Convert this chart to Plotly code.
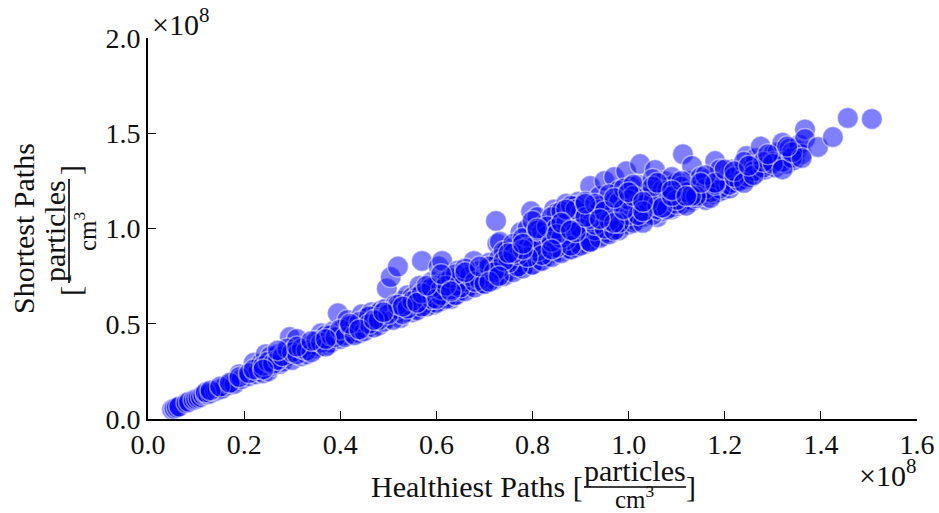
import plotly.graph_objects as go

# values in units of 1e8 particles/cm^3
x_a = [.05,.055,.06,.065,.08,.085,.095,.10,.105,.11,.115,.12,.125,.13,.14,.145,.15,.155,.16,.17,.175,.18,.19,.195]
y_a = [.05,.055,.06,.065,.085,.09,.10,.105,.11,.115,.125,.13,.13,.135,.145,.15,.155,.16,.17,.18,.19,.185,.235,.21]
x_b = [.21,.22,.225,.23,.235,.24,.245,.25,.255,.26,.27,.275,.28,.285,.29,.295,.30,.305,.31,.32,.33,.335,.34,.35,.355,.36,.37,.375,.38,.385,.39,.395]
y_b = [.225,.295,.235,.25,.29,.24,.34,.25,.33,.28,.34,.29,.30,.35,.33,.43,.31,.36,.42,.33,.34,.36,.39,.37,.38,.45,.44,.39,.40,.46,.42,.555]
x_c = [.40,.405,.41,.415,.42,.425,.43,.435,.44,.445,.45,.455,.46,.465,.47,.475,.48,.485,.49,.495,.497,.50,.505,.51,.515,.52,.525,.53,.535,.54,.545,.55,.555,.56,.565,.57,.575,.58,.585,.59,.595]
y_c = [.42,.47,.44,.52,.46,.45,.50,.47,.45,.55,.48,.53,.49,.56,.50,.55,.49,.57,.52,.58,.685,.53,.745,.57,.60,.80,.53,.62,.56,.65,.58,.64,.60,.58,.70,.83,.62,.68,.61,.72,.60]
x_d = [.60,.605,.61,.612,.615,.62,.625,.63,.635,.64,.645,.65,.655,.66,.665,.67,.678,.68,.685,.69,.695,.70,.705,.71,.715,.72,.724,.727,.732,.735,.74,.745,.75,.755,.76,.765,.77,.775,.78,.785,.79,.795]
y_d = [.66,.80,.62,.83,.72,.64,.68,.63,.72,.65,.78,.67,.70,.69,.74,.70,.83,.72,.75,.71,.74,.73,.76,.75,.80,.74,1.04,.92,.93,.78,.76,.88,.80,.78,.90,.82,.79,.98,.84,.81,1.00,.86]
x_e = [.797,.80,.805,.81,.815,.82,.825,.83,.835,.84,.845,.85,.855,.86,.865,.87,.875,.88,.885,.89,.895,.90,.905,.91,.915,.92,.925,.93,.935,.94,.945,.95,.955,.96,.965,.97,.975,.98,.985,.99,.995]
y_e = [1.09,.81,.95,1.06,.83,.90,1.02,.85,.97,.87,1.10,.92,1.04,.88,1.00,1.13,.89,1.07,.95,.90,1.14,.96,1.10,.92,1.04,1.223,.94,1.08,.98,1.17,.96,1.25,1.04,.98,1.12,1.27,1.00,1.20,1.08,1.03,1.30]
x_f = [1.00,1.005,1.01,1.015,1.02,1.024,1.03,1.035,1.04,1.045,1.05,1.055,1.06,1.065,1.07,1.075,1.08,1.085,1.09,1.095,1.10,1.105,1.11,1.113,1.12,1.125,1.13,1.132,1.14,1.145,1.15,1.155,1.16,1.165,1.17,1.175,1.18,1.185,1.19,1.195]
y_f = [1.02,1.22,1.10,1.04,1.23,1.338,1.06,1.16,1.08,1.20,1.10,1.307,1.06,1.18,1.09,1.25,1.12,1.22,1.10,1.14,1.24,1.12,1.18,1.39,1.15,1.25,1.14,1.328,1.20,1.16,1.23,1.17,1.15,1.26,1.21,1.18,1.354,1.19,1.24,1.20]
x_g = [1.20,1.205,1.21,1.215,1.22,1.225,1.23,1.235,1.24,1.245,1.25,1.255,1.26,1.265,1.27,1.275,1.28,1.285,1.29,1.295,1.30,1.305,1.31,1.315,1.32,1.325,1.33,1.335,1.34,1.345,1.35,1.355,1.36,1.367,1.367,1.394,1.425,1.456,1.506]
y_g = [1.22,1.26,1.21,1.31,1.24,1.28,1.25,1.30,1.26,1.38,1.29,1.27,1.33,1.37,1.30,1.43,1.34,1.31,1.36,1.33,1.39,1.32,1.40,1.35,1.45,1.37,1.34,1.42,1.38,1.36,1.41,1.44,1.39,1.52,1.47,1.428,1.48,1.58,1.575]
x_h = [.55,.56,.58,.60,.62,.64,.66,.68,.70,.72,.74,.76,.78,.80,.82,.84,.86,.88,.90,.92,.94,.96,.98,.83,.85,.87,.89,.91,.93,.95,.97,.99,1.01,1.03,1.05,1.07,1.09,1.11,1.13,1.15,1.17,1.19,1.21,1.23,1.25]
y_h = [.56,.57,.59,.61,.63,.65,.67,.69,.71,.73,.75,.77,.79,.81,.83,.85,.87,.89,.91,.93,.95,.97,.99,.92,1.08,.94,1.12,1.01,.99,1.06,1.14,1.17,1.03,1.12,1.07,1.15,1.11,1.13,1.15,1.17,1.19,1.21,1.23,1.25,1.27]
x_i = [.12,.13,.15,.17,.19,.21,.22,.24,.25,.26,.27,.28,.29,.30,.31,.32,.33,.34,.35,.36,.37,.38,.39,.40,.41,.42,.43,.44,.45,.46,.47,.48,.49,.50,.51,.52,.53]
y_i = [.14,.15,.17,.19,.22,.24,.26,.28,.30,.29,.31,.33,.37,.35,.34,.37,.36,.35,.41,.40,.38,.44,.43,.47,.43,.49,.44,.51,.46,.54,.48,.53,.51,.56,.52,.58,.55]
x_j = [.54,.56,.57,.58,.59,.60,.61,.62,.63,.64,.65,.66,.67,.68,.69,.70,.71,.72,.73,.74,.75,.76,.77,.78,.79,.80,.81,.82,.83,.84,.85,.86,.87,.88,.89,.90]
y_j = [.60,.64,.59,.66,.63,.70,.65,.72,.68,.70,.73,.72,.76,.74,.78,.76,.82,.78,.84,.88,.83,.92,.80,.95,.90,1.04,.88,.98,.96,1.06,.90,1.09,.97,1.12,1.01,1.08]
x_k = [.80,.81,.82,.83,.84,.85,.86,.87,.88,.89,.90,.91,.92,.93,.94,.95,.96,.97,.98,.99,1.00,1.01,1.02,1.03,1.04,1.05,1.06,1.07,1.08,1.09,1.10,1.11,1.12,1.13,1.14,1.15,1.16,1.17,1.18,1.19]
y_k = [.90,.99,.86,1.01,.93,1.00,.95,1.03,.91,1.10,1.00,1.14,.93,1.02,1.12,1.00,1.18,.99,1.14,1.21,1.07,1.23,1.12,1.03,1.17,1.26,1.10,1.20,1.10,1.27,1.13,1.22,1.12,1.20,1.16,1.27,1.21,1.16,1.23,1.31]
x_l = [.92,.94,.96,.98,1.00,1.02,1.04,1.06,1.08,1.10,1.12,1.14,1.16,1.18,1.20,1.22,1.24,1.26,1.28,1.30,1.32,1.34,.85,.87,.89,.91,.93,.95,.97,.99,1.01,1.03,1.05,1.07,1.09,1.11,1.13,1.15]
y_l = [1.05,1.10,1.04,1.03,1.15,1.07,1.14,1.12,1.20,1.15,1.19,1.17,1.28,1.24,1.31,1.27,1.35,1.30,1.32,1.35,1.35,1.37,.97,1.10,.98,1.06,1.13,1.09,1.03,1.10,1.17,1.09,1.22,1.11,1.17,1.25,1.17,1.24]
x_m = [.46,.48,.50,.52,.54,.55,.57,.59,.61,.63,.65,.67,.69,.71,.73,.75,.77,.79,.64,.66,.68,.70,.72,.74,.76,.78,.60,.62,1.22,1.24,1.26,1.28,1.30,1.32,1.34,1.36,1.25,1.29,1.33]
y_m = [.50,.52,.55,.60,.58,.62,.66,.69,.68,.74,.69,.75,.73,.80,.79,.82,.86,.85,.76,.79,.72,.71,.77,.83,.87,.89,.63,.70,1.30,1.24,1.28,1.35,1.34,1.31,1.40,1.37,1.33,1.39,1.43]
x_n = [.24,.27,.31,.34,.37,.42,.44,.47,.49,.53,.56,.58,.61,.63,.66,.69,.71,.73,.75,.78,.81,.84,.86,.88,.91,.94,.97,1.00,1.03,1.06,1.09,1.12]
y_n = [.26,.36,.38,.41,.42,.50,.47,.52,.56,.59,.61,.70,.76,.67,.77,.80,.72,.75,.87,.92,1.00,.89,1.03,.99,1.13,1.05,1.16,1.19,1.14,1.24,1.20,1.17]

xs = x_a + x_b + x_c + x_d + x_e + x_f + x_g + x_h + x_i + x_j + x_k + x_l + x_m + x_n
ys = y_a + y_b + y_c + y_d + y_e + y_f + y_g + y_h + y_i + y_j + y_k + y_l + y_m + y_n

x_ticks = [0, .2, .4, .6, .8, 1.0, 1.2, 1.4, 1.6]
x_labels = ["0.0", "0.2", "0.4", "0.6", "0.8", "1.0", "1.2", "1.4", "1.6"]
y_ticks = [0, .5, 1.0, 1.5, 2.0]
y_labels = ["0.0", "0.5", "1.0", "1.5", "2.0"]

W, H = 939, 513
L, R, T, B = 148, 22, 38, 94
FONT = "Liberation Serif"
TXT = "#111111"

fig = go.Figure(go.Scatter(
    x=xs, y=ys, mode="markers",
    marker=dict(size=21, color="rgba(0,0,255,0.5)",
                line=dict(color="rgba(255,255,255,0.45)", width=1.5)),
))

def pa(px, py, text, size=30, angle=0, xanchor="center", yanchor="middle"):
    fig.add_annotation(x=(px - L) / (W - L - R), y=(H - B - py) / (H - T - B),
                       xref="paper", yref="paper", text=text, showarrow=False,
                       textangle=angle, xanchor=xanchor, yanchor=yanchor,
                       font=dict(family=FONT, size=size, color=TXT))

def rule(x0, y0, x1, y1):
    fig.add_shape(type="line", xref="paper", yref="paper",
                  x0=(x0 - L) / (W - L - R), x1=(x1 - L) / (W - L - R),
                  y0=(H - B - y0) / (H - T - B), y1=(H - B - y1) / (H - T - B),
                  line=dict(color="black", width=1.6))

# x axis title
pa(369, 486, "Healthiest Paths [", xanchor="left")
pa(635, 470, "particles")
rule(584, 487, 686, 487)
pa(635, 497, "cm<sup>3</sup>", size=25)
pa(691, 486, "]")
pa(918, 473, "×10<sup>8</sup>", xanchor="right")

# y axis title
pa(24, 229, "Shortest Paths", angle=-90)
pa(70, 170, "]", angle=-90)
pa(54, 231, "particles", angle=-90)
rule(69, 179, 69, 283)
pa(85, 231, "cm<sup>3</sup>", size=25, angle=-90)
pa(70, 291, "[", angle=-90)
pa(150, 22, "×10<sup>8</sup>", xanchor="left")

fig.update_layout(
    width=W, height=H, showlegend=False,
    paper_bgcolor="white", plot_bgcolor="white",
    margin=dict(l=L, r=R, t=T, b=B, autoexpand=False),
    font=dict(family=FONT, size=28, color=TXT),
    xaxis=dict(range=[0, 1.6], tickvals=x_ticks, ticktext=x_labels, ticks="inside",
               ticklen=8, tickwidth=1, tickcolor="black", showgrid=False, zeroline=False,
               showline=True, linecolor="black", linewidth=1.6, automargin=False),
    yaxis=dict(range=[0, 2.0], tickvals=y_ticks, ticktext=y_labels, ticks="inside",
               ticklen=8, tickwidth=1, tickcolor="black", showgrid=False, zeroline=False,
               showline=True, linecolor="black", linewidth=1.6, automargin=False),
)

fig.write_html("out.html", post_script="document.body.style.margin='0';",
               config={"displayModeBar": False})
